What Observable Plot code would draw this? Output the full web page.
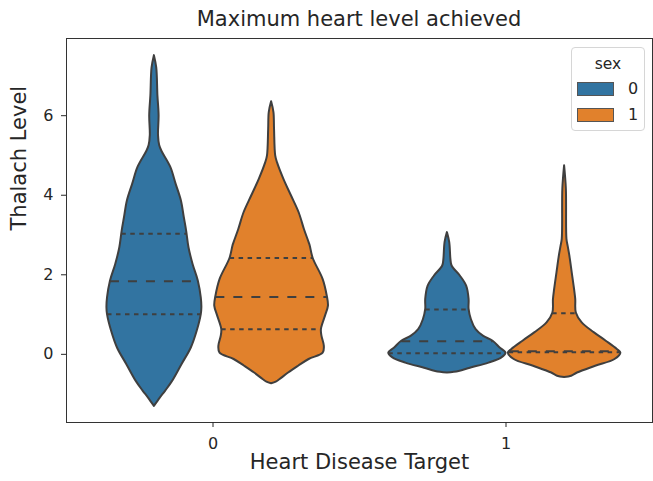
<!DOCTYPE html>
<html><head><meta charset="utf-8">
<script src="https://cdn.jsdelivr.net/npm/d3@7"></script>
<script src="https://cdn.jsdelivr.net/npm/@observablehq/plot@0.6"></script>
<style>
body{margin:0;background:#fff;font-family:"DejaVu Sans",sans-serif;}
#wrap{position:relative;width:653px;height:481px;overflow:hidden;}
#title{position:absolute;left:66px;width:586px;top:7px;text-align:center;font-size:21px;line-height:25px;color:#262626;white-space:nowrap;}
#chart{position:absolute;left:0;top:37px;}
#legend{position:absolute;left:571px;top:47px;width:72px;height:82px;border:1px solid #d6d6d6;border-radius:4px;background:rgba(255,255,255,0.8);font-size:16px;color:#262626;}
.lt{position:absolute;left:0;width:72px;top:7px;text-align:center;font-size:15.5px;line-height:18px;}
.sw{position:absolute;left:5px;width:37px;height:14px;border:1px solid #555;box-sizing:border-box;}
.ll{position:absolute;left:56px;line-height:18px;}
</style></head><body>
<div id="wrap"><div id="title"></div><div id="chart"></div><div id="legend"></div></div>
<script>
const chartTitle = "Maximum heart level achieved";
const xLabel = "Heart Disease Target";
const yLabel = "Thalach Level";
const legendTitle = "sex";
const targets = [0, 1];
const sexes = ["0", "1"];
const colors = ["#3274a1", "#e1812c"];
const xTicks = [0, 1];
const yTicks = [0, 2, 4, 6];

// violin profiles: value (y) and relative density (1 = full half-width)
const t0s0_y = [7.51, 7.2, 6.5, 6.0, 5.5, 5.25, 5.1, 4.7, 4.28, 3.86, 3.44, 3.10, 2.68, 2.26, 1.84, 1.42, 1.17, 1.00, 0.58, 0.16, -0.26, -0.68, -0.93, -1.10, -1.31];
const t0s0_d = [0, 0.04, 0.06, 0.08, 0.07, 0.09, 0.13, 0.28, 0.37, 0.46, 0.51, 0.55, 0.59, 0.66, 0.75, 0.80, 0.81, 0.80, 0.73, 0.63, 0.47, 0.31, 0.19, 0.10, 0];
const t0s1_y = [6.35, 6.08, 5.66, 4.99, 4.82, 4.40, 3.98, 3.56, 3.14, 2.81, 2.72, 2.41, 1.88, 1.46, 1.21, 0.96, 0.62, 0.45, 0.20, 0.03, -0.13, -0.30, -0.47, -0.64, -0.70, -0.74];
const t0s1_d = [0, 0.04, 0.05, 0.07, 0.10, 0.21, 0.34, 0.47, 0.56, 0.64, 0.66, 0.71, 0.88, 0.95, 0.97, 0.92, 0.85, 0.86, 0.90, 0.88, 0.64, 0.46, 0.29, 0.14, 0.08, 0];
const t1s0_y = [3.06, 2.81, 2.39, 2.22, 1.97, 1.71, 1.38, 1.13, 0.87, 0.62, 0.45, 0.33, 0.16, 0.03, -0.09, -0.22, -0.35, -0.43, -0.47];
const t1s0_d = [0, 0.04, 0.06, 0.08, 0.22, 0.33, 0.37, 0.37, 0.41, 0.49, 0.62, 0.78, 0.90, 1.0, 0.93, 0.71, 0.39, 0.20, 0];
const t1s1_y = [4.74, 4.15, 2.89, 2.72, 2.47, 2.05, 1.63, 1.38, 1.04, 0.79, 0.54, 0.33, 0.12, 0.03, -0.13, -0.30, -0.47, -0.55, -0.58];
const t1s1_d = [0, 0.03, 0.04, 0.06, 0.09, 0.13, 0.17, 0.19, 0.20, 0.30, 0.51, 0.71, 0.90, 0.96, 0.86, 0.53, 0.22, 0.12, 0];

// quartiles [q1, median, q3]
const t0s0_q = [1.01, 1.84, 3.03];
const t0s1_q = [0.63, 1.44, 2.42];
const t1s0_q = [0.03, 0.33, 1.13];
const t1s1_q = [0.05, 0.08, 1.03];

const violins = [
  {target: 0, sex: "0", y: t0s0_y, d: t0s0_d, q: t0s0_q},
  {target: 0, sex: "1", y: t0s1_y, d: t0s1_d, q: t0s1_q},
  {target: 1, sex: "0", y: t1s0_y, d: t1s0_d, q: t1s0_q},
  {target: 1, sex: "1", y: t1s1_y, d: t1s1_d, q: t1s1_q}
];

const dodge = 0.2, halfMax = 0.2;
const rows = [], qRows = [], mRows = [];
for (const v of violins) {
  const c = v.target + (v.sex === "0" ? -dodge : dodge);
  const key = v.target + "-" + v.sex;
  v.y.forEach((yy, i) => rows.push({key, sex: v.sex, y: yy, x1: c - v.d[i] * halfMax, x2: c + v.d[i] * halfMax}));
  const asc = v.y.map((yy, i) => [yy, v.d[i]]).sort((a, b) => a[0] - b[0]);
  const interp = (val) => {
    for (let i = 1; i < asc.length; i++) {
      if (val <= asc[i][0]) {
        const [y0, d0] = asc[i - 1], [y1, d1] = asc[i];
        return d0 + (d1 - d0) * (val - y0) / (y1 - y0);
      }
    }
    return 0;
  };
  v.q.forEach((qq, i) => {
    const w = interp(qq) * halfMax;
    const r = {y: qq, x1: c - w, x2: c + w};
    (i === 1 ? mRows : qRows).push(r);
  });
}

const edge = "#3f3f3f";
const chart = Plot.plot({
  width: 653, height: 444,
  marginTop: 1, marginRight: 1, marginBottom: 59, marginLeft: 66,
  x: {domain: [-0.5, 1.5]},
  y: {domain: [-1.714, 7.941]},
  color: {domain: sexes, range: colors},
  style: {fontFamily: "DejaVu Sans", color: "#262626", background: "white", overflow: "visible"},
  marks: [
    Plot.areaX(rows, {y: "y", x1: "x1", x2: "x2", z: "key", fill: "sex", stroke: edge, strokeWidth: 2, strokeLinejoin: "round", curve: "catmull-rom"}),
    Plot.ruleY(qRows, {y: "y", x1: "x1", x2: "x2", stroke: edge, strokeWidth: 2, strokeDasharray: "4.5,4.5"}),
    Plot.ruleY(mRows, {y: "y", x1: "x1", x2: "x2", stroke: edge, strokeWidth: 2, strokeDasharray: "9,9"}),
    Plot.frame({stroke: "#333", strokeWidth: 1}),
    Plot.axisX({ticks: xTicks, tickFormat: d => String(d), tickSize: 5, tickPadding: 10, fontSize: 16, label: null}),
    Plot.axisY({ticks: yTicks, tickFormat: d => String(d), tickSize: 5, tickPadding: 8, fontSize: 16, label: null}),
    Plot.text([xLabel], {frameAnchor: "bottom", dy: 46, fontSize: 21, text: d => d}),
    Plot.text([yLabel], {frameAnchor: "left", dx: -47, rotate: -90, fontSize: 21, text: d => d})
  ]
});
document.getElementById("chart").appendChild(chart);
document.getElementById("title").textContent = chartTitle;

const lg = document.getElementById("legend");
const t = document.createElement("div"); t.className = "lt"; t.textContent = legendTitle; lg.appendChild(t);
sexes.forEach((s, i) => {
  const sw = document.createElement("div"); sw.className = "sw";
  sw.style.top = (34 + i * 26) + "px"; sw.style.background = colors[i]; lg.appendChild(sw);
  const l = document.createElement("div"); l.className = "ll";
  l.style.top = (32 + i * 26) + "px"; l.textContent = s; lg.appendChild(l);
});
</script>
</body></html>
